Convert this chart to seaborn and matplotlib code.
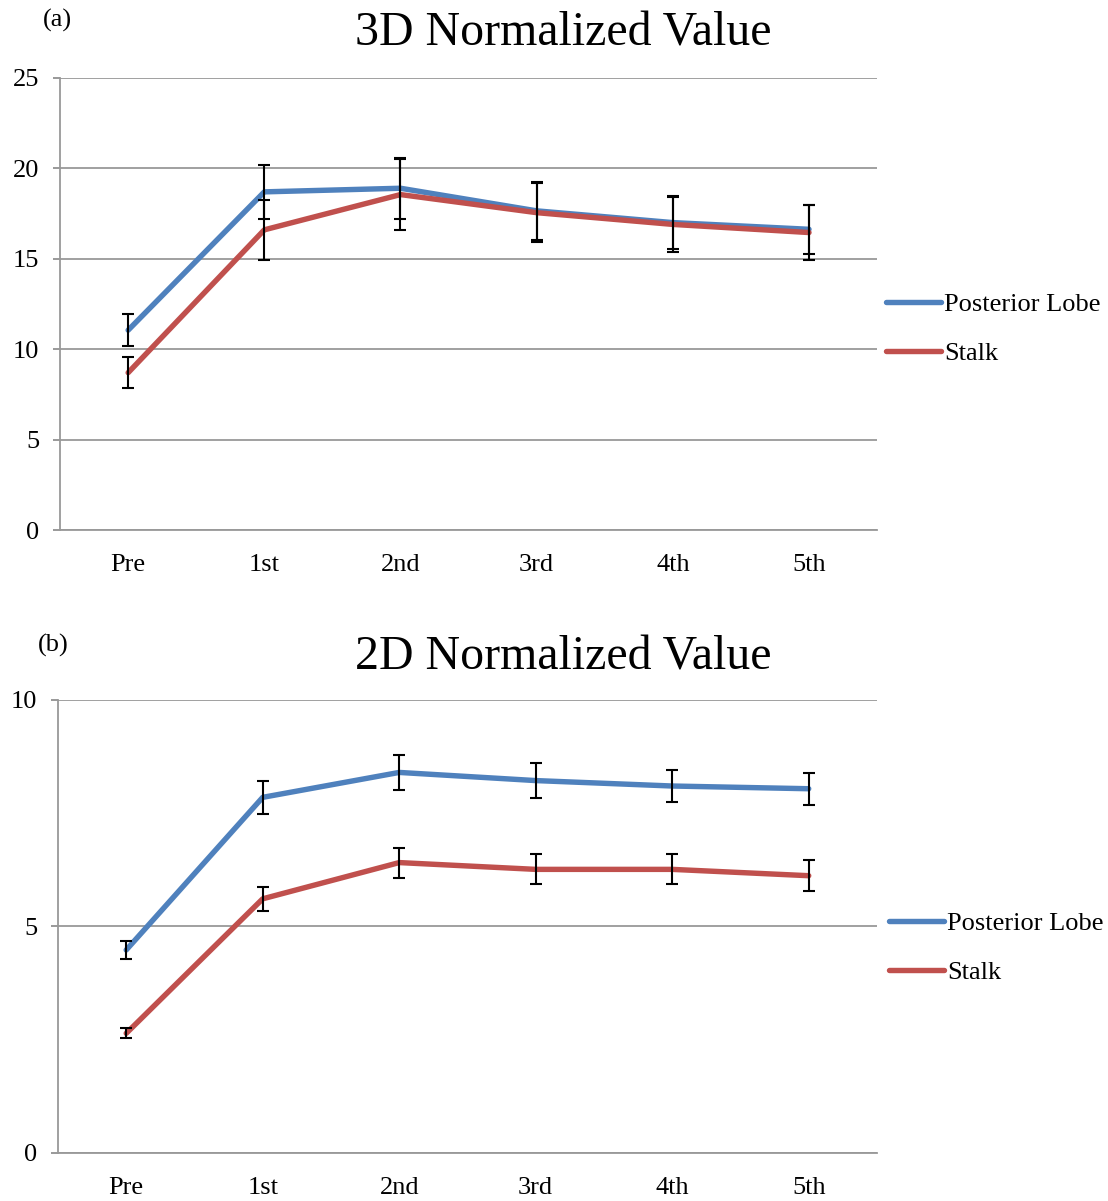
import numpy as np
import pandas as pd
import matplotlib
matplotlib.use("Agg")
import matplotlib.pyplot as plt
import seaborn as sns

# data
sessions = ["Pre", "1st", "2nd", "3rd", "4th", "5th"]
series_names = ["Posterior Lobe", "Stalk"]

lobe_3d = [11.05, 18.7, 18.9, 17.65, 17.0, 16.63]
lobe_3d_err = [0.9, 1.5, 1.7, 1.6, 1.45, 1.35]
stalk_3d = [8.7, 16.6, 18.55, 17.55, 16.9, 16.45]
stalk_3d_err = [0.87, 1.66, 1.97, 1.65, 1.5, 1.5]

lobe_2d = [4.48, 7.85, 8.4, 8.22, 8.1, 8.04]
lobe_2d_err = [0.2, 0.37, 0.38, 0.38, 0.35, 0.35]
stalk_2d = [2.64, 5.61, 6.41, 6.26, 6.26, 6.12]
stalk_2d_err = [0.11, 0.27, 0.33, 0.33, 0.33, 0.34]

colors = ["#4F81BD", "#C0504D"]

sns.set_style("white")
plt.rcParams["font.family"] = ["Liberation Serif", "DejaVu Serif"]
plt.rcParams["text.color"] = "black"
plt.rcParams["xtick.color"] = "black"
plt.rcParams["ytick.color"] = "black"

fig = plt.figure(figsize=(11.08, 12.01), dpi=100)
ax_top = fig.add_axes([0.0542, 0.5587, 0.7374, 0.3764])
ax_bot = fig.add_axes([0.0523, 0.0400, 0.7392, 0.3772])


def draw_panel(ax, lobe, lobe_err, stalk, stalk_err, ymax, ystep, title, tag, title_y, tag_xy, leg_xy):
    pos = np.arange(len(sessions))
    df = pd.DataFrame({
        "pos": np.concatenate([pos, pos]),
        "value": lobe + stalk,
        "series": [series_names[0]] * len(pos) + [series_names[1]] * len(pos),
    })
    sns.lineplot(data=df, x="pos", y="value", hue="series", palette=colors,
                 linewidth=3.9, ax=ax, legend=False, zorder=2)
    ax.errorbar(pos, lobe, yerr=lobe_err, fmt="none", ecolor="black",
                elinewidth=1.5, capsize=4.5, capthick=1.5, zorder=3)
    ax.errorbar(pos, stalk, yerr=stalk_err, fmt="none", ecolor="black",
                elinewidth=1.5, capsize=4.5, capthick=1.5, zorder=3)

    ax.set_xlim(-0.5, len(sessions) - 0.5)
    ax.set_ylim(0, ymax)
    ax.set_yticks(np.arange(0, ymax + 0.1, ystep))
    ax.set_xticks(pos)
    ax.set_xticklabels(sessions)
    ax.set_xticks(np.arange(-0.5, len(sessions), 1.0), minor=True)
    ax.tick_params(axis="x", which="major", length=0, labelsize=19, pad=17, labelcolor="black")
    ax.tick_params(axis="x", which="minor", length=7, width=1.2, color="#888888", direction="out")
    ax.tick_params(axis="y", length=5, width=1.2, color="#888888", labelsize=19,
                   pad=10, left=True, labelcolor="black")
    ax.set_xlabel("")
    ax.set_ylabel("")
    ax.yaxis.grid(True, color="#999999", linewidth=1.3)
    ax.set_axisbelow(True)
    for side in ["top", "right"]:
        ax.spines[side].set_visible(False)
    for side in ["left", "bottom"]:
        ax.spines[side].set_color("#999999")
        ax.spines[side].set_linewidth(1.3)

    fig.text(563 / 1108, title_y, title, fontsize=34.5, ha="center", va="center")
    fig.text(tag_xy[0], tag_xy[1], tag, fontsize=19, ha="left", va="center")

    handles = [plt.Line2D([], [], color=c, linewidth=3.9) for c in colors]
    fig.legend(handles, series_names, loc="center left", bbox_to_anchor=leg_xy,
               frameon=False, fontsize=19, handlelength=2.1, handletextpad=0.1,
               labelspacing=0.95, borderpad=0, borderaxespad=0)


draw_panel(ax_top, lobe_3d, lobe_3d_err, stalk_3d, stalk_3d_err, 25, 5,
           "3D Normalized Value", "(a)", 1 - 33 / 1201, (43 / 1108, 1 - 20 / 1201),
           (886 / 1108, 1 - 329 / 1201))
draw_panel(ax_bot, lobe_2d, lobe_2d_err, stalk_2d, stalk_2d_err, 10, 5,
           "2D Normalized Value", "(b)", 1 - 657 / 1201, (38 / 1108, 1 - 645 / 1201),
           (889 / 1108, 1 - 948 / 1201))

fig.savefig("out.png", dpi=100, facecolor="white")
